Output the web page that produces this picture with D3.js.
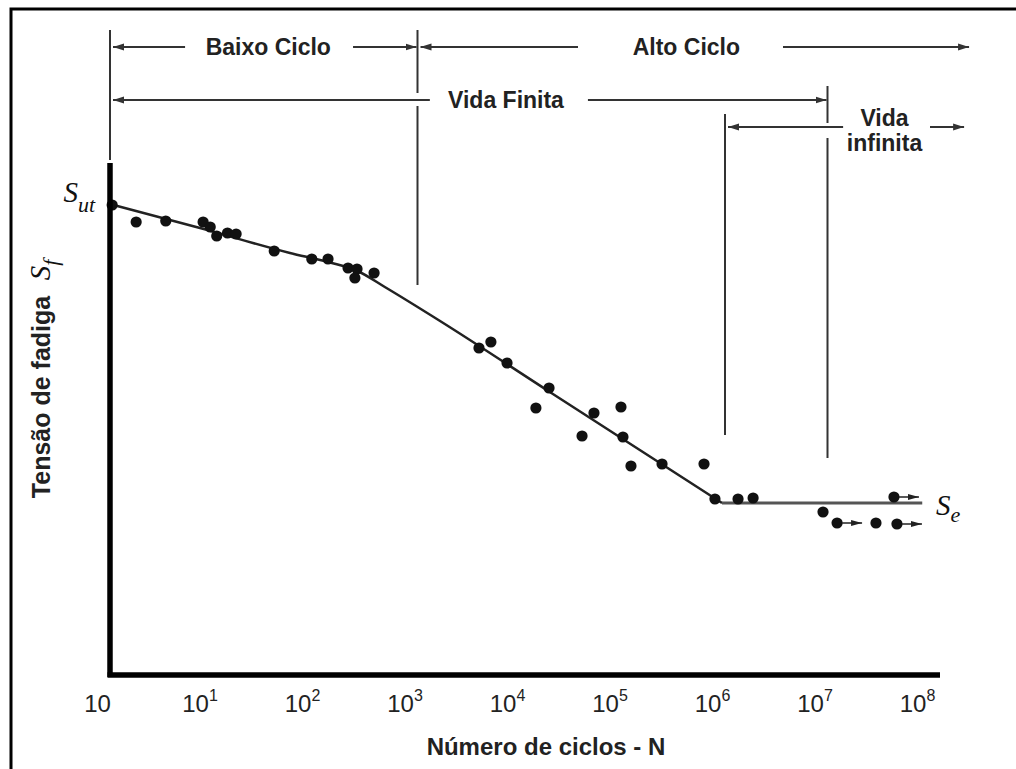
<!DOCTYPE html>
<html>
<head>
<meta charset="utf-8">
<script src="https://cdn.jsdelivr.net/npm/d3@7"></script>
<style>
  body { margin: 0; background: #fff; }
  svg { display: block; }
  text { fill: #222; font-family: "Liberation Sans", Arial, sans-serif; }
  .math { font-family: "Liberation Serif", "DejaVu Serif", serif; font-style: italic; fill: #111; }
</style>
</head>
<body>
<script>
// valeurs (N en cycles, S en unités relatives 0-100)
const cycles = [1.05, 1.8, 3.5, 8.1, 9.5, 11, 14, 17, 40, 93, 134, 210, 257, 245, 377,
  3980, 5200, 7470, 19200, 14300, 52700, 40300, 96600, 101000, 121000, 243000, 624000,
  798000, 1.34e6, 1.88e6, 9.04e6, 2.97e7]
const stress = [94.0, 90.6, 90.8, 90.6, 89.6, 87.8, 88.4, 88.2, 84.8, 83.2, 83.2, 81.4, 81.2, 79.4, 80.4,
  65.4, 66.6, 62.4, 57.4, 53.4, 52.4, 47.8, 53.6, 47.6, 41.8, 42.2, 42.2,
  35.2, 35.2, 35.4, 32.6, 30.4]

// essais interrompus (flèches)
const runoutCycles = [1.24e7, 4.45e7, 4.76e7]
const runoutStress = [30.4, 35.6, 30.2]

// courbe S-N ajustée
const curveCycles = [1, 7.55, 57, 140, 260, 480, 1660, 19200, 935000]
const curveStress = [94.2, 89.4, 84.4, 82.5, 80.8, 77.6, 70.8, 56.7, 34.4]
const enduranceLimit = 34.4
const enduranceEnd = 8.4e7

// graduations de l'axe x
const tickValues = [1, 1e1, 1e2, 1e3, 1e4, 1e5, 1e6, 1e7, 1e8]
const tickSup = ["", "1", "2", "3", "4", "5", "6", "7", "8"]

const width = 1016
const height = 769

const svg = d3.select("body")
  .append("svg")
  .attr("width", width)
  .attr("height", height)

const x = d3.scaleLog().domain([1, 1e8]).range([110, 930])
const y = d3.scaleLinear().domain([0, 100]).range([675, 175])

// cadre
svg.append("rect")
  .attr("x", 11).attr("y", 9)
  .attr("width", 1030).attr("height", 800)
  .attr("fill", "none").attr("stroke", "#000").attr("stroke-width", 3)

const defs = svg.append("defs")
defs.append("marker")
  .attr("id", "head")
  .attr("markerUnits", "userSpaceOnUse")
  .attr("markerWidth", 11).attr("markerHeight", 8)
  .attr("refX", 11).attr("refY", 4)
  .attr("orient", "auto")
  .append("path").attr("d", "M0,0.5 L11,4 L0,7.5 Z").attr("fill", "#333")
defs.append("marker")
  .attr("id", "small")
  .attr("markerUnits", "userSpaceOnUse")
  .attr("markerWidth", 11).attr("markerHeight", 7)
  .attr("refX", 11).attr("refY", 3.5)
  .attr("orient", "auto")
  .append("path").attr("d", "M0,0.5 L11,3.5 L0,6.5 Z").attr("fill", "#222")

// lignes verticales des régions
const bounds = [
  { n: 1, segs: [[30, 160]] },
  { n: 1e3, segs: [[30, 93], [106, 285]] },
  { n: 1e6, segs: [[114, 435]] },
  { n: 1e7, segs: [[86, 123], [138, 458]] }
]
bounds.forEach(b => {
  b.segs.forEach(s => {
    svg.append("line")
      .attr("x1", x(b.n)).attr("x2", x(b.n))
      .attr("y1", s[0]).attr("y2", s[1])
      .attr("stroke", "#333").attr("stroke-width", 2)
  })
})

// flèches des régions [depuis, vers, y]
const arrows = [
  [5.4, 1, 47], [235, 1e3, 47], [36800, 1e3, 47], [3.68e6, 2.46e8, 47],
  [1320, 1, 100], [46000, 1e7, 100],
  [1.42e7, 1e6, 127], [1e8, 2.2e8, 127]
]
arrows.forEach(a => {
  let x1 = x(a[0]), x2 = x(a[1])
  x2 += x2 < x1 ? 3 : -1
  svg.append("line")
    .attr("x1", x1).attr("x2", x2)
    .attr("y1", a[2]).attr("y2", a[2])
    .attr("stroke", "#333").attr("stroke-width", 2)
    .attr("marker-end", "url(#head)")
})

const regionLabels = [
  { text: "Baixo Ciclo", n: 35, y: 55 },
  { text: "Alto Ciclo", n: 4.2e5, y: 55 },
  { text: "Vida Finita", n: 7300, y: 108 },
  { text: "Vida", n: 3.6e7, y: 126 },
  { text: "infinita", n: 3.6e7, y: 151 }
]
svg.selectAll(".region")
  .data(regionLabels)
  .enter()
  .append("text")
  .attr("class", "region")
  .attr("x", d => x(d.n))
  .attr("y", d => d.y)
  .attr("text-anchor", "middle")
  .attr("font-size", 23)
  .attr("font-weight", "bold")
  .text(d => d.text)

// courbe
const line = d3.line()
  .x((d, i) => x(curveCycles[i]))
  .y(d => y(d))
  .curve(d3.curveMonotoneX)
svg.append("path")
  .attr("d", line(curveStress))
  .attr("fill", "none").attr("stroke", "#222").attr("stroke-width", 2.5)

svg.append("line")
  .attr("x1", x(curveCycles[curveCycles.length - 1])).attr("x2", x(enduranceEnd))
  .attr("y1", y(enduranceLimit)).attr("y2", y(enduranceLimit))
  .attr("stroke", "#555").attr("stroke-width", 3)

// points
svg.selectAll(".pt")
  .data(cycles)
  .enter()
  .append("circle")
  .attr("class", "pt")
  .attr("cx", d => x(d))
  .attr("cy", (d, i) => y(stress[i]))
  .attr("r", 5.6)
  .attr("fill", "#111")

runoutCycles.forEach((n, i) => {
  svg.append("circle")
    .attr("cx", x(n)).attr("cy", y(runoutStress[i]))
    .attr("r", 5.6).attr("fill", "#111")
  svg.append("line")
    .attr("x1", x(n) + 5).attr("x2", x(n) + 25)
    .attr("y1", y(runoutStress[i])).attr("y2", y(runoutStress[i]))
    .attr("stroke", "#222").attr("stroke-width", 1.5)
    .attr("marker-end", "url(#small)")
})

// axes
svg.append("line")
  .attr("x1", x(1)).attr("x2", x(1))
  .attr("y1", y(0) + 2).attr("y2", 163)
  .attr("stroke", "#000").attr("stroke-width", 5.5)
svg.append("line")
  .attr("x1", x(1) - 2.5).attr("x2", 940)
  .attr("y1", y(0)).attr("y2", y(0))
  .attr("stroke", "#000").attr("stroke-width", 5.5)

const xAxis = svg.append("g")
  .attr("transform", "translate(0," + y(0) + ")")
  .call(d3.axisBottom(x).tickValues(tickValues).tickSize(0).tickFormat(() => ""))
xAxis.select(".domain").remove()
xAxis.selectAll(".tick text").remove()
xAxis.selectAll(".tick").each(function (d, i) {
  const t = d3.select(this).append("text")
    .attr("x", -13).attr("y", 37)
    .attr("font-size", 24)
    .attr("fill", "#222")
    .attr("font-family", "Liberation Sans, Arial, sans-serif")
  t.append("tspan").text("10")
  if (tickSup[i]) {
    t.append("tspan").attr("dy", -11).attr("font-size", 16).text(tickSup[i])
  }
})

svg.append("text")
  .attr("x", 546).attr("y", 755)
  .attr("text-anchor", "middle")
  .attr("font-size", 24).attr("font-weight", "bold")
  .text("Número de ciclos - N")

svg.append("text")
  .attr("transform", "translate(50,397) rotate(-90)")
  .attr("text-anchor", "middle")
  .attr("font-size", 25).attr("font-weight", "bold")
  .text("Tensão de fadiga")

// symboles
const sut = svg.append("text").attr("class", "math")
  .attr("x", 95).attr("y", 202).attr("text-anchor", "end").attr("font-size", 29)
sut.append("tspan").text("S")
sut.append("tspan").attr("dy", 10).attr("font-size", 22).text("ut")

const sf = svg.append("text").attr("class", "math")
  .attr("transform", "translate(50,270) rotate(-90)")
  .attr("text-anchor", "middle").attr("font-size", 29)
sf.append("tspan").text("S")
sf.append("tspan").attr("dy", 8).attr("font-size", 22).text("f")

const se = svg.append("text").attr("class", "math")
  .attr("x", 936).attr("y", 515).attr("font-size", 29)
se.append("tspan").text("S")
se.append("tspan").attr("dy", 7).attr("font-size", 22).text("e")
</script>
</body>
</html>
